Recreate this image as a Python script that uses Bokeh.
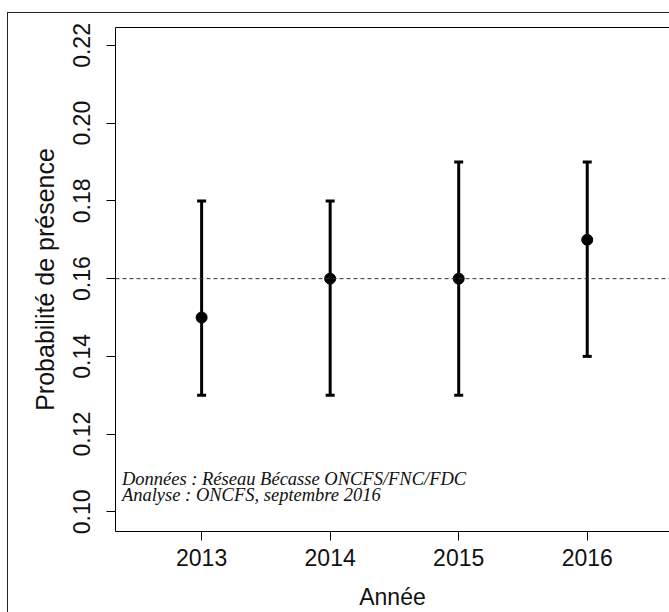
from bokeh.plotting import figure
from bokeh.models import (Range1d, FixedTicker, Whisker, TeeHead, Span, Label,
                          ColumnDataSource, LinearAxis)
from bokeh.embed import file_html
from bokeh.resources import INLINE

# ---- data ----
years = [2013, 2014, 2015, 2016]
estimate = [0.15, 0.16, 0.16, 0.17]
lower = [0.13, 0.13, 0.13, 0.14]
upper = [0.18, 0.18, 0.19, 0.19]
reference_level = 0.16

x_ticks = [2013, 2014, 2015, 2016]
x_tick_labels = ["2013", "2014", "2015", "2016"]
y_ticks = [0.10, 0.12, 0.14, 0.16, 0.18, 0.20, 0.22]
y_tick_labels = ["0.10", "0.12", "0.14", "0.16", "0.18", "0.20", "0.22"]

x_title = "Année"
y_title = "Probabilité de présence"
note_lines = ["Données : Réseau Bécasse ONCFS/FNC/FDC",
              "Analyse : ONCFS, septembre 2016"]

src = ColumnDataSource(dict(x=years, y=estimate, lo=lower, hi=upper))

W, H = 669, 612
X0, X1 = 2012.33, 2016.64
Y0, Y1 = 0.09494, 0.22462
FL, FT = 115, 27            # frame left / top in canvas px

p = figure(width=W, height=H, output_backend="svg", toolbar_location=None,
           x_range=Range1d(X0, X1), y_range=Range1d(Y0, Y1),
           min_border_left=FL, min_border_right=0, min_border_top=FT,
           min_border_bottom=80)
p.outline_line_color = None
p.xgrid.visible = False
p.ygrid.visible = False
p.background_fill_color = "white"
p.border_fill_color = None   # let the page frame drawn below show through
p.styles = {
    "background": ("linear-gradient(#222222, #222222) 7px 12px / 1px calc(100% - 12px) no-repeat, "
                   "linear-gradient(#222222, #222222) 7px 12px / calc(100% - 7px) 1px no-repeat, "
                   "#ffffff"),
}

FONT = "Liberation Sans"
for ax in (p.xaxis[0], p.yaxis[0]):
    ax.axis_line_color = "black"
    ax.axis_line_width = 1
    ax.major_tick_line_color = "black"
    ax.major_tick_out = 9
    ax.major_tick_in = 0
    ax.minor_tick_line_color = None
    ax.major_label_text_font = FONT
    ax.major_label_text_font_size = "23px"
    ax.major_label_text_color = "#111111"
    ax.axis_label_text_font = FONT
    ax.axis_label_text_font_style = "normal"
    ax.axis_label_text_color = "#111111"

p.xaxis[0].ticker = FixedTicker(ticks=x_ticks)
p.xaxis[0].major_label_overrides = {t: l for t, l in zip(x_ticks, x_tick_labels)}
p.xaxis[0].major_label_standoff = 8
p.xaxis[0].axis_label = x_title
p.xaxis[0].axis_label_text_font_size = "23px"
p.xaxis[0].axis_label_standoff = 15

p.yaxis[0].ticker = FixedTicker(ticks=y_ticks)
p.yaxis[0].major_label_overrides = {t: l for t, l in zip(y_ticks, y_tick_labels)}
p.yaxis[0].major_label_orientation = "vertical"
p.yaxis[0].major_label_standoff = 16
p.yaxis[0].axis_label = y_title
p.yaxis[0].axis_label_text_font_size = "25px"
p.yaxis[0].axis_label_standoff = 12

# top edge of the plot box
top_ax = LinearAxis(ticker=FixedTicker(ticks=x_ticks), axis_line_color="black",
                    axis_line_width=1,
                    major_tick_line_color=None, minor_tick_line_color=None,
                    major_label_text_alpha=0, major_label_text_font_size="1px",
                    major_label_standoff=0)
p.add_layout(top_ax, "above")

# reference dashed line
p.add_layout(Span(location=reference_level, dimension="width",
                  line_color="#333333", line_width=1, line_dash="4 3"))

# error bars
p.add_layout(Whisker(source=src, base="x", lower="lo", upper="hi",
                     line_width=3, line_color="black",
                     upper_head=TeeHead(size=9, line_width=3, line_color="black"),
                     lower_head=TeeHead(size=9, line_width=3, line_color="black")))

p.scatter("x", "y", source=src, size=11, color="black")

# notes
note_y = [0.10855, 0.10444]
for txt, yy in zip(note_lines, note_y):
    p.add_layout(Label(x=2012.38, y=yy, text=txt, text_font="Liberation Serif",
                       text_font_style="italic", text_font_size="18.5px",
                       text_color="#111111", text_baseline="alphabetic"))

open("out.html", "w").write(file_html(p, INLINE))
